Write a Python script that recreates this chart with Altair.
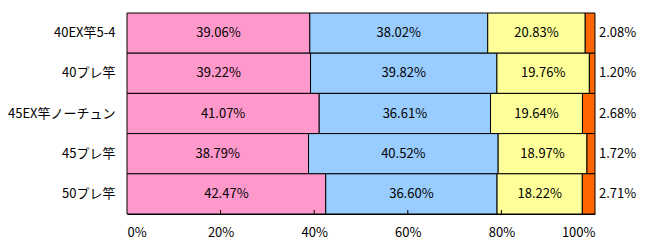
import altair as alt
import pandas as pd

CATS = ["40EX竿5-4", "40プレ竿", "45EX竿ノーチュン", "45プレ竿", "50プレ竿"]
SERIES = ["A", "B", "C", "D"]
COLORS = ["#FF99CC", "#99CCFF", "#FFFF99", "#FF6600"]
A = [39.06, 39.22, 41.07, 38.79, 42.47]
B = [38.02, 39.82, 36.61, 40.52, 36.60]
C = [20.83, 19.76, 19.64, 18.97, 18.22]
D = [2.08, 1.20, 2.68, 1.72, 2.71]
TICKS = [20, 40, 60, 80]
TICK_VALUES = [0, 20, 40, 60, 80, 100]

rows = []
for i, cat in enumerate(CATS):
    for j, (s, vals) in enumerate(zip(SERIES, [A, B, C, D])):
        rows.append({"cat": cat, "series": s, "idx": j, "value": vals[i]})
df = pd.DataFrame(rows)

FONT = "Noto Sans CJK JP"

xscale = alt.Scale(domain=[0, 100], nice=False)
yscale = alt.Scale(domain=CATS, paddingInner=0, paddingOuter=0)

base = alt.Chart(df)

bars = base.mark_bar(stroke="black", strokeWidth=1).encode(
    y=alt.Y("cat:N", sort=CATS, scale=yscale, title=None,
            axis=alt.Axis(ticks=False, domain=False, labelPadding=12,
                          labelFont=FONT, labelFontSize=13, labelColor="black")),
    x=alt.X("value:Q", stack="zero", scale=xscale, title=None,
            axis=alt.Axis(values=TICK_VALUES, ticks=False, grid=False, domain=True,
                          domainColor="black", labelPadding=12,
                          labelExpr="datum.value + '%'",
                          labelFont=FONT, labelFontSize=13, labelColor="black")),
    color=alt.Color("series:N", scale=alt.Scale(domain=SERIES, range=COLORS), legend=None),
    order=alt.Order("idx:Q"),
)

stacked = base.transform_stack(
    stack="value", groupby=["cat"], as_=["x0", "x1"], sort=[alt.SortField("idx")]
).transform_calculate(
    mid="(datum.x0 + datum.x1) / 2",
    label="format(datum.value, '.2f') + '%'",
)

inner = stacked.transform_filter("datum.idx < 3").mark_text(
    font=FONT, fontSize=13, color="black", align="center", baseline="middle"
).encode(
    y=alt.Y("cat:N", sort=CATS, scale=yscale),
    x=alt.X("mid:Q", scale=xscale),
    text="label:N",
)

outer = stacked.transform_filter("datum.idx == 3").mark_text(
    font=FONT, fontSize=13, color="black", align="left", baseline="middle", dx=4
).encode(
    y=alt.Y("cat:N", sort=CATS, scale=yscale),
    x=alt.X("x1:Q", scale=xscale),
    text="label:N",
)

tick_df = pd.DataFrame({"t": TICKS})
ticks = alt.Chart(tick_df).mark_rule(color="black", strokeWidth=1).encode(
    x=alt.X("t:Q", scale=xscale),
    y=alt.value(197),
    y2=alt.value(201),
)

chart = alt.layer(bars, inner, outer, ticks).properties(
    width=468, height=201,
    autosize=alt.AutoSizeParams(type="none"),
    padding={"left": 127, "top": 13, "right": 52, "bottom": 38},
    background="white",
).configure_view(stroke=None)

chart.save("out.html", embed_options={"renderer": "svg", "actions": False})
